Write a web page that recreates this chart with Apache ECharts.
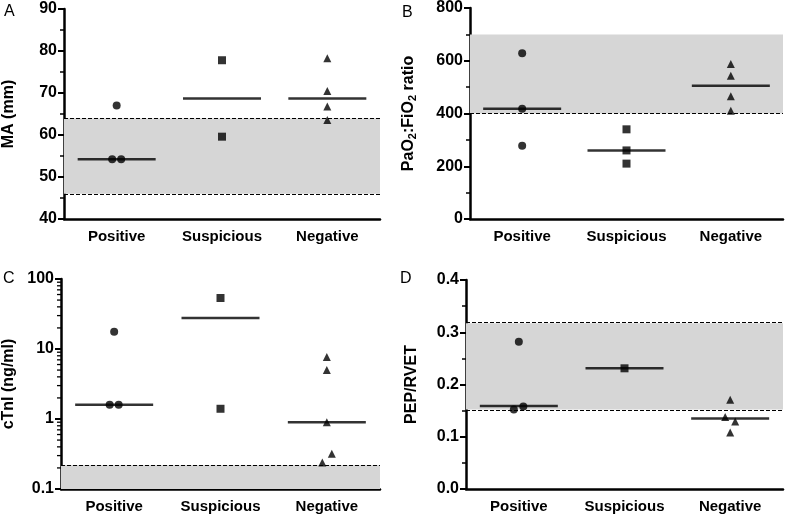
<!DOCTYPE html>
<html><head><meta charset="utf-8">
<script src="https://cdn.jsdelivr.net/npm/echarts@6/dist/echarts.min.js"></script>
<style>html,body{margin:0;padding:0;background:#fff}#c{width:787px;height:518px}</style>
</head><body><div id="c"></div>
<script>
// ---- data ----
const categories = ['Positive', 'Suspicious', 'Negative'];

// Panel A: MA (mm)
const aPositive = [67, 54.2, 54.2];
const aSuspicious = [77.8, 59.6];
const aNegative = [78.3, 70.5, 66.8, 63.6];
const aMedians = [54.2, 68.7, 68.7];
const aRange = [46, 64];

// Panel B: PaO2:FiO2 ratio
const bPositive = [628, 418, 278];
const bSuspicious = [340, 260, 210];
const bNegative = [588, 543, 465, 410];
const bMedians = [418, 260, 505];
const bRange = [400, 700];

// Panel C: cTnI (ng/ml)
const cPositive = [17.7, 1.6, 1.6];
const cSuspicious = [53.5, 1.4];
const cNegative = [7.7, 5.0, 0.9, 0.32, 0.24];
const cMedians = [1.6, 27.7, 0.9];
const cRange = [0.1, 0.22];

// Panel D: PEP/RVET
const dPositive = [0.282, 0.152, 0.158];
const dSuspicious = [0.231];
const dNegative = [0.171, 0.138, 0.129, 0.108];
const dMedians = [0.159, 0.231, 0.135];
const dRange = [0.152, 0.317];

// tick labels
const aTicks = [40, 50, 60, 70, 80, 90];
const bTicks = [0, 200, 400, 600, 800];
const cTicks = [0.1, 1, 10, 100];
const dTicks = [0.0, 0.1, 0.2, 0.3, 0.4];

// ---- styling (horizontal jitter offsets, px) ----
const aPosOff = [0, -4.5, 4.5];
const cPosOff = [0, -4.5, 4.5];
const cNegOff = [0, 0, 0, 5, -4.5];
const dPosOff = [0, -5, 4.5];
const dNegOff = [0, -5, 5, 0];

const FONT = '"Liberation Sans", Arial, sans-serif';
const grids = [
  {left: 64, right: 407, top: 9, height: 210},
  {left: 470, right: 4, top: 8, height: 211},
  {left: 61, right: 407, top: 279, height: 210},
  {left: 466, right: 4, top: 280, height: 209}
];

function xAxisCfg(i) {
  return {
    type: 'category', gridIndex: i, data: categories, boundaryGap: true,
    axisLine: {lineStyle: {color: '#000', width: 2.5}},
    axisTick: {alignWithLabel: true, length: 5, lineStyle: {color: '#000', width: 2}},
    axisLabel: {color: '#000', fontWeight: 'bold', fontSize: 15, fontFamily: FONT, margin: 10},
    splitLine: {show: false}
  };
}
const yLabel = {color: '#000', fontWeight: 'bold', fontSize: 16, fontFamily: FONT, margin: 7};
function yAxisCfg(i, opts) {
  return Object.assign({
    gridIndex: i,
    axisLine: {show: true, lineStyle: {color: '#000', width: 2.5}},
    axisTick: {show: true, length: 6, lineStyle: {color: '#000', width: 2}},
    minorTick: {show: true, splitNumber: 2, length: 4, lineStyle: {color: '#000', width: 1.5}},
    splitLine: {show: false},
    axisLabel: yLabel,
    nameLocation: 'middle',
    nameTextStyle: {color: '#000', fontWeight: 'bold', fontSize: 16, fontFamily: FONT}
  }, opts);
}

function pts(vals, offs, cat) {
  return vals.map((v, k) => ({value: [cat, v], symbolOffset: [offs ? offs[k] : 0, 0]}));
}
function panelSeries(i, pos, posOff, sus, susOff, neg, negOff, med, band, dashes) {
  const out = [];
  out.push({
    type: 'scatter', xAxisIndex: i, yAxisIndex: i, data: [], z: 1, silent: true,
    markArea: {silent: true, itemStyle: {color: '#d6d6d6'}, data: [[{yAxis: band[0]}, {yAxis: band[1]}]]},
    markLine: {silent: true, symbol: 'none', label: {show: false},
      lineStyle: {color: '#000', width: 1, type: [4, 2]},
      data: dashes.map(v => ({yAxis: v}))}
  });
  out.push({type: 'scatter', xAxisIndex: i, yAxisIndex: i, z: 4, symbol: 'circle', symbolSize: 8,
    itemStyle: {color: '#000'}, data: pts(pos, posOff, categories[0])});
  out.push({type: 'scatter', xAxisIndex: i, yAxisIndex: i, z: 4, symbol: 'rect', symbolSize: 8,
    itemStyle: {color: '#000'}, data: pts(sus, susOff, categories[1])});
  out.push({type: 'scatter', xAxisIndex: i, yAxisIndex: i, z: 4, symbol: 'triangle', symbolSize: 8,
    itemStyle: {color: '#000'}, data: pts(neg, negOff, categories[2])});
  out.push({type: 'scatter', xAxisIndex: i, yAxisIndex: i, z: 3, symbol: 'rect', symbolSize: [78, 2.5],
    itemStyle: {color: '#000'}, data: med.map((v, k) => [categories[k], v])});
  return out;
}

// log minor ticks for panel C
const cMinor = [];
for (let d = 0; d < cTicks.length - 1; d++) {
  for (let m = 2; m <= 9; m++) cMinor.push([categories[0], +(cTicks[d] * m).toPrecision(3)]);
}

const series = [].concat(
  panelSeries(0, aPositive, aPosOff, aSuspicious, null, aNegative, null, aMedians, aRange, aRange),
  panelSeries(1, bPositive, null, bSuspicious, null, bNegative, null, bMedians, bRange, [bRange[0]]),
  panelSeries(2, cPositive, cPosOff, cSuspicious, null, cNegative, cNegOff, cMedians, cRange, [cRange[1]]),
  panelSeries(3, dPositive, dPosOff, dSuspicious, null, dNegative, dNegOff, dMedians, dRange, dRange),
  [{
    type: 'custom', xAxisIndex: 2, yAxisIndex: 2, silent: true, clip: false, z: 5,
    data: cMinor,
    renderItem: function (params, api) {
      const y = api.coord([api.value(0), api.value(1)])[1];
      const x0 = params.coordSys.x;
      return {type: 'line', shape: {x1: x0 - 4, y1: y, x2: x0, y2: y},
        style: {stroke: '#000', lineWidth: 1.3}};
    }
  }]
);

const option = {
  animation: false,
  backgroundColor: '#fff',
  title: [
    {text: 'A', left: 4, top: 4},
    {text: 'B', left: 402, top: 5},
    {text: 'C', left: 3, top: 271},
    {text: 'D', left: 400, top: 271}
  ].map(t => Object.assign(t, {padding: 0, textStyle: {fontSize: 16, fontWeight: 'normal', color: '#000', fontFamily: FONT}})),
  grid: grids,
  xAxis: [0, 1, 2, 3].map(xAxisCfg),
  yAxis: [
    yAxisCfg(0, {type: 'value', min: aTicks[0], max: aTicks[aTicks.length - 1], interval: 10, name: 'MA (mm)', nameGap: 47}),
    yAxisCfg(1, {type: 'value', min: bTicks[0], max: bTicks[bTicks.length - 1], interval: 200, name: 'PaO{sub|2}:FiO{sub|2} ratio', nameGap: 52,
      nameTextStyle: {color: '#000', fontWeight: 'bold', fontSize: 16, fontFamily: FONT,
        rich: {sub: {fontSize: 11, fontWeight: 'bold', fontFamily: FONT, color: '#000', verticalAlign: 'bottom', padding: [8, 0, 0, 0]}}}}),
    yAxisCfg(2, {type: 'log', logBase: 10, min: cTicks[0], max: cTicks[cTicks.length - 1], name: 'cTnI (ng/ml)', nameGap: 44,
      minorTick: {show: false},
      axisLabel: Object.assign({}, yLabel, {formatter: v => String(+(+v).toPrecision(3))})}),
    yAxisCfg(3, {type: 'value', min: dTicks[0], max: dTicks[dTicks.length - 1], interval: 0.1, name: 'PEP/RVET', nameGap: 46,
      axisLabel: Object.assign({}, yLabel, {formatter: v => (+v).toFixed(1)})})
  ],
  series: series
};
const chart = echarts.init(document.getElementById('c'), null, {renderer: 'canvas'});
chart.setOption(option);
</script>
</body></html>
